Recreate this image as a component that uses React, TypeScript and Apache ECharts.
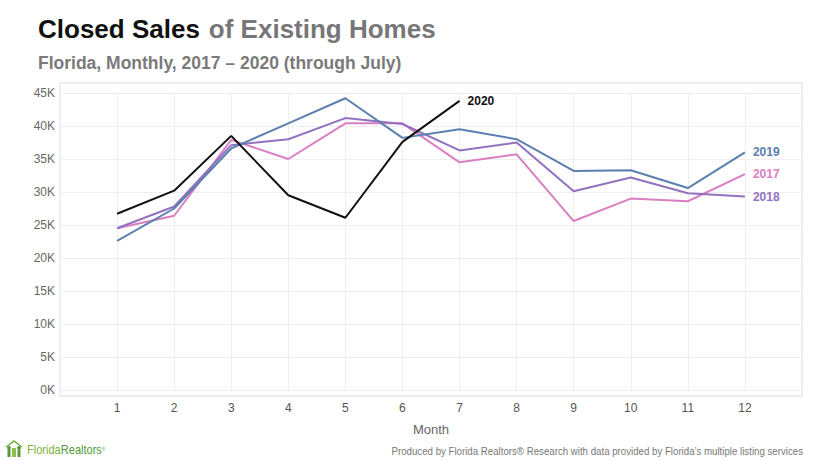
import React, { useEffect, useRef } from "react";
import * as echarts from "echarts";

const months = [1, 2, 3, 4, 5, 6, 7, 8, 9, 10, 11, 12];
const sales2017 = [24500, 26400, 37900, 35000, 40400, 40400, 34500, 35700, 25600, 29000, 28600, 32700];
const sales2018 = [24500, 27800, 37100, 38000, 41200, 40300, 36300, 37500, 30100, 32200, 29800, 29300];
const sales2019 = [22600, 27500, 36600, 40400, 44200, 38200, 39500, 38000, 33200, 33300, 30600, 36000];
const sales2020 = [26700, 30200, 38500, 29500, 26100, 37600, 43800];
const yTicks = [0, 5000, 10000, 15000, 20000, 25000, 30000, 35000, 40000, 45000];

const NARROW = '"Liberation Sans Narrow", "Arial Narrow", "Liberation Sans", Arial, sans-serif';
const SANS = '"Liberation Sans", Arial, Helvetica, sans-serif';

export default function App() {
  const ref = useRef<HTMLDivElement>(null);
  useEffect(() => {
    if (!ref.current) return;
    const chart = echarts.init(ref.current, undefined, { renderer: "svg" });
    const mk = (name: string, data: number[], color: string) => ({
      name,
      type: "line",
      data: data.map((v, i) => [months[i], v]),
      showSymbol: false,
      symbol: "none",
      lineStyle: { color, width: 2 },
      itemStyle: { color },
      endLabel: {
        show: true,
        formatter: "{a}",
        color,
        fontFamily: SANS,
        fontWeight: "bold",
        fontSize: 12,
      },
      z: name === "2020" ? 5 : 3,
    });
    chart.setOption({
      animation: false,
      backgroundColor: "#fff",
      title: [
        {
          text: "{a|Closed Sales}{s| }{b|of Existing Homes}",
          left: 33,
          top: 11,
          textStyle: {
            rich: {
              a: { fontFamily: SANS, fontWeight: "bold", fontSize: 26, color: "#111" },
              s: { fontFamily: SANS, fontWeight: "bold", fontSize: 26, width: 9 },
              b: { fontFamily: SANS, fontWeight: "bold", fontSize: 26, color: "#777" },
            },
          },
        },
        {
          text: "Florida, Monthly, 2017 \u2013 2020 (through July)",
          left: 33,
          top: 49,
          textStyle: { fontFamily: SANS, fontWeight: "bold", fontSize: 17.5, color: "#7a7a7a" },
        },
      ],
      grid: { left: 60, right: 17, top: 93, bottom: 71, containLabel: false },
      xAxis: {
        type: "value",
        min: 0,
        max: 13,
        interval: 1,
        name: "Month",
        nameLocation: "middle",
        nameGap: 33,
        nameTextStyle: { fontFamily: NARROW, fontSize: 13, color: "#666" },
        axisLine: { show: false },
        axisTick: { show: false },
        axisLabel: {
          margin: 12,
          fontFamily: NARROW,
          fontSize: 12,
          color: "#555",
          formatter: (v: number) => (v >= 1 && v <= 12 ? String(v) : ""),
        },
        splitLine: { show: true, lineStyle: { color: "#efefef", width: 1 } },
      },
      yAxis: {
        type: "value",
        min: 0,
        max: 45000,
        interval: 5000,
        axisLine: { show: false },
        axisTick: { show: false },
        axisLabel: {
          margin: 5,
          fontFamily: NARROW,
          fontSize: 12,
          color: "#666",
          customValues: yTicks,
          formatter: (v: number) => `${Math.round(v / 1000)}K`,
        },
        splitLine: { show: true, lineStyle: { color: "#efefef", width: 1 } },
      },
      graphic: [
        {
          type: "rect",
          shape: { x: 60, y: 83, width: 742, height: 313 },
          style: { fill: "none", stroke: "#dcdcdc", lineWidth: 1 },
          z: 0,
          silent: true,
        },
        {
          type: "text",
          x: 803,
          y: 446,
          scaleX: 0.88,
          style: {
            text: "Produced by Florida Realtors\u00ae Research with data provided by Florida\u2019s multiple listing services",
            fontFamily: NARROW,
            fontSize: 11,
            fill: "#777",
            align: "right",
          },
        },
        {
          type: "group",
          x: 3,
          y: 439,
          children: [
            { type: "polygon", shape: { points: [[2, 8], [11, 1], [20, 8], [18, 8], [11, 3], [4, 8]] }, style: { fill: "#79b03f" } },
            { type: "circle", shape: { cx: 6, cy: 9, r: 2 }, style: { fill: "#5a9a3a" } },
            { type: "circle", shape: { cx: 16, cy: 9, r: 2 }, style: { fill: "#5a9a3a" } },
            { type: "rect", shape: { x: 4.5, y: 11, width: 3, height: 7 }, style: { fill: "#5a9a3a" } },
            { type: "rect", shape: { x: 14.5, y: 11, width: 3, height: 7 }, style: { fill: "#5a9a3a" } },
            { type: "rect", shape: { x: 9, y: 9, width: 4, height: 9 }, style: { fill: "#8cc04c" } },
          ],
        },
        {
          type: "text",
          x: 27,
          y: 443,
          scaleX: 0.85,
          style: {
            text: "{a|Florida}{b|Realtors}{c|\u00ae}",
            rich: {
              a: { fontFamily: NARROW, fontSize: 13, fill: "#7cb342", color: "#7cb342" },
              b: { fontFamily: NARROW, fontSize: 13, fill: "#4f9a3a", color: "#4f9a3a" },
              c: { fontFamily: NARROW, fontSize: 5, fill: "#4f9a3a", color: "#4f9a3a" },
            },
          },
        },
      ],
      series: [
        mk("2017", sales2017, "#d97fc2"),
        mk("2018", sales2018, "#9272c0"),
        mk("2019", sales2019, "#5b80b0"),
        mk("2020", sales2020, "#111111"),
      ],
    });
    return () => chart.dispose();
  }, []);
  return <div ref={ref} style={{ width: 819, height: 461, position: "absolute", left: 0, top: 0 }} />;
}
